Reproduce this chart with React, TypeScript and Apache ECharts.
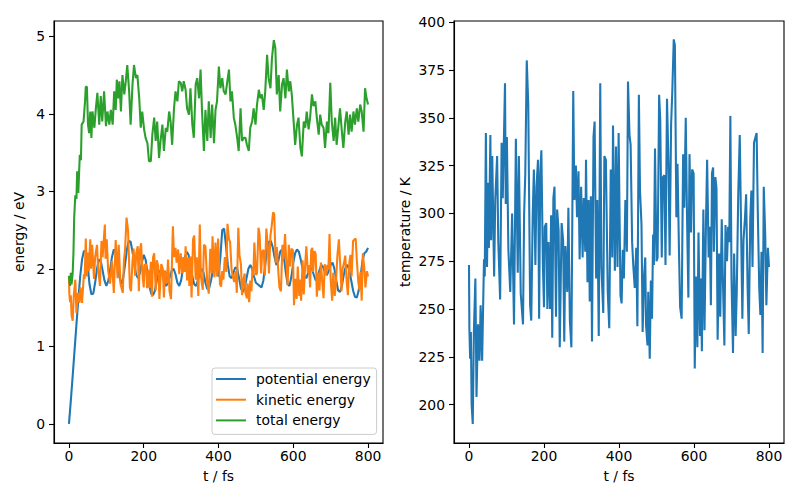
import React, { useEffect, useRef } from "react";
import * as echarts from "echarts";

// ---------- data ----------
const xTicks = [0, 200, 400, 600, 800];
const energyTicks = [0, 1, 2, 3, 4, 5];
const tempTicks = [200, 225, 250, 275, 300, 325, 350, 375, 400];

const potTime = [0,5,10,15,20,25,30,35,40,45,50,55,60,65,70,75,80,85,90,95,100,105,110,115,120,125,130,135,140,145,150,155,160,165,170,175,180,185,190,195,200,205,210,215,220,225,230,235,240,245,250,255,260,265,270,275,280,285,290,295,300,305,310,315,320,325,330,335,340,345,350,355,360,365,370,375,380,385,390,395,400,405,410,415,420,425,430,435,440,445,450,455,460,465,470,475,480,485,490,495,500,505,510,515,520,525,530,535,540,545,550,555,560,565,570,575,580,585,590,595,600,605,610,615,620,625,630,635,640,645,650,655,660,665,670,675,680,685,690,695,700,705,710,715,720,725,730,735,740,745,750,755,760,765,770,775,780,785,790,795,800];
const potentialEnergy = [0.00,0.30,0.62,0.95,1.28,1.60,1.90,2.12,2.23,2.22,2.05,1.80,1.67,1.68,1.82,2.00,2.12,2.10,1.98,1.85,1.78,1.84,1.98,2.15,2.25,2.22,2.08,1.90,1.80,1.88,2.05,2.25,2.36,2.35,2.22,2.05,1.92,1.88,1.95,2.08,2.18,2.12,1.95,1.78,1.68,1.66,1.72,1.85,1.95,1.98,1.92,1.82,1.78,1.82,1.90,1.98,2.00,1.93,1.82,1.78,1.85,2.00,2.15,2.22,2.18,2.05,1.90,1.80,1.78,1.85,1.95,2.00,1.95,1.82,1.74,1.75,1.85,1.98,2.05,1.98,1.90,2.15,2.50,2.52,2.30,2.05,1.90,1.88,1.95,2.02,2.00,1.88,1.75,1.70,1.75,1.88,2.00,2.05,2.00,1.90,1.82,1.80,1.78,1.76,1.85,2.05,2.25,2.35,2.36,2.28,2.15,2.05,2.10,2.22,2.25,2.15,1.95,1.80,1.78,1.90,2.08,2.20,2.25,2.22,2.12,2.00,1.90,1.88,1.95,2.02,2.00,1.92,1.85,1.88,1.98,2.05,2.02,1.95,1.92,1.98,2.05,2.08,2.00,1.85,1.72,1.70,1.78,1.92,2.02,2.05,1.98,1.85,1.72,1.64,1.63,1.72,1.90,2.10,2.20,2.22,2.27];

const tempTime = [0,1,3,5,7,10,13,17,20,24,28,31,35,40,42,45,48,51,53,57,59,62,67,70,75,78,83,87,90,96,98,101,105,110,115,120,125,130,133,138,144,147,150,154,158,163,166,170,173,177,180,184,187,190,193,197,200,202,
206,209,212,216,219,222,225,228,232,235,239,242,247,251,254,257,262,265,269,273,278,281,285,288,292,295,299,303,306,310,312,316,319,322,325,328,332,335,339,342,346,350,353,358,361,365,370,374,378,382,384,389,392,396,399,
404,407,410,413,417,421,424,428,431,435,438,442,446,449,453,456,460,463,467,470,472,476,478,482,485,488,491,493,496,500,503,507,510,514,517,521,524,528,532,535,539,542,546,549,553,556,560,563,567,571,574,578,581,585,588,592,595,599,602,
605,609,612,616,618,621,625,628,632,635,639,642,645,648,651,653,657,660,663,667,670,674,677,681,684,688,691,694,697,700,704,707,711,714,718,722,725,729,732,736,739,743,746,750,753,756,760,764,767,770,774,777,780,783,786,790,793,797,800];

const temperature = [273,240,224,238,200,190,238,266,204,242,223,252,223,276,267,342,272,316,282,341,286,330,267,307,330,286,255,337,308,368,305,340,281,259,300,242,339,269,330,258,242,300,320,380,357,252,244,300,323,273,314,328,245,321,333,273,251,293,
295,250,285,250,299,235,308,314,246,302,291,230,295,286,233,283,259,303,244,230,364,307,325,298,322,276,314,277,308,280,328,264,307,254,309,233,340,348,266,307,236,368,272,248,330,328,259,240,323,277,346,270,335,272,342,
257,253,281,266,307,280,369,341,336,285,273,261,282,241,362,312,294,238,268,277,242,231,259,224,265,245,289,273,334,275,277,362,349,277,319,320,273,360,326,278,347,363,391,388,298,326,280,251,245,331,303,350,303,256,331,290,323,321,219,
267,230,290,236,266,228,302,239,296,328,277,293,252,321,324,280,319,313,234,279,246,297,266,231,294,275,293,285,351,266,227,279,236,259,310,341,300,245,286,298,310,261,237,297,312,272,337,340,342,302,261,247,280,227,314,288,252,282,272];

const kineticEnergy = [1.91,1.68,1.57,1.66,1.40,1.33,1.66,1.86,1.43,1.69,1.56,1.76,1.56,1.93,1.87,2.39,1.90,2.21,1.97,2.38,2.00,2.31,1.87,2.15,2.31,2.00,1.78,2.36,2.15,2.57,2.13,2.38,1.97,1.81,2.10,1.69,2.37,1.88,2.31,1.80,1.69,2.10,2.24,2.66,2.50,1.76,1.71,2.10,2.26,1.91,2.20,2.29,1.71,2.24,2.33,1.91,1.76,2.05,
2.06,1.75,1.99,1.75,2.09,1.64,2.15,2.20,1.72,2.11,2.03,1.61,2.06,2.00,1.63,1.98,1.81,2.12,1.71,1.61,2.55,2.15,2.27,2.08,2.25,1.93,2.20,1.94,2.15,1.96,2.29,1.85,2.15,1.78,2.16,1.63,2.38,2.43,1.86,2.15,1.65,2.57,1.90,1.73,2.31,2.29,1.81,1.68,2.26,1.94,2.42,1.89,2.34,1.90,2.39,
1.80,1.77,1.97,1.86,2.15,1.96,2.58,2.38,2.35,1.99,1.91,1.83,1.97,1.69,2.53,2.18,2.06,1.66,1.87,1.94,1.69,1.62,1.81,1.57,1.85,1.71,2.02,1.91,2.34,1.92,1.94,2.53,2.44,1.94,2.23,2.24,1.91,2.52,2.28,1.94,2.43,2.54,2.73,2.71,2.08,2.28,1.96,1.76,1.71,2.31,2.12,2.45,2.12,1.79,2.31,2.03,2.26,2.24,1.53,
1.87,1.61,2.03,1.65,1.86,1.59,2.11,1.67,2.07,2.29,1.94,2.05,1.76,2.24,2.27,1.96,2.23,2.19,1.64,1.95,1.72,2.08,1.86,1.62,2.06,1.92,2.05,1.99,2.45,1.86,1.59,1.95,1.65,1.81,2.17,2.38,2.10,1.71,2.00,2.08,2.17,1.83,1.66,2.08,2.18,1.90,2.36,2.38,2.39,2.11,1.83,1.73,1.96,1.59,2.20,2.01,1.76,1.97,1.90];

const totalTime = [0,3,5,7,10,12,14,17,20,22,25,29,32,34,39,43,45,48,51,54,57,60,63,68,72,76,81,85,89,94,99,103,108,112,117,121,125,128,132,135,139,143,148,152,156,161,165,170,174,179,183,188,192,196,201,205,210,214,219,223,228,232,236,241,245,250,254,259,263,268,272,276,281,285,290,294,299,303,307,312,316,321,325,330,334,339,343,348,352,356,361,365,370,374,379,383,388,392,396,401,405,410,414,419,423,428,432,436,441,445,450,454,459,463,468,472,476,481,485,490,494,499,503,508,512,516,521,525,530,534,539,543,548,552,556,561,565,570,574,579,583,588,592,596,601,605,610,614,619,623,628,632,636,641,645,650,654,659,663,668,672,676,681,685,690,694,699,703,708,712,716,721,725,730,734,739,743,748,752,756,761,765,770,774,779,783,788,792,796,800];
const totalEnergy = [1.91,1.78,1.95,1.80,1.95,2.20,2.66,2.95,2.90,3.26,2.98,3.47,3.40,3.86,3.90,4.16,4.35,4.35,3.86,3.75,4.03,3.69,4.03,3.82,4.07,4.27,3.86,4.23,3.90,4.29,3.84,4.03,3.86,4.05,3.86,4.29,4.05,4.44,4.20,4.42,4.03,4.50,4.25,4.42,4.63,4.29,3.86,4.38,4.63,4.46,4.50,4.20,3.82,4.03,3.80,3.69,3.62,3.39,3.39,3.73,3.95,3.65,3.90,3.43,3.65,3.86,3.52,3.82,3.77,4.03,3.90,3.60,4.07,4.29,4.16,4.42,4.40,4.29,4.42,4.31,4.07,3.99,4.33,3.86,3.69,4.38,4.46,4.20,4.57,4.03,3.52,4.05,3.65,4.16,3.69,4.12,3.62,4.05,4.16,4.61,4.33,4.46,4.29,4.25,4.40,4.57,4.16,4.29,3.95,3.86,3.69,3.52,4.07,3.65,3.69,3.69,3.60,3.52,3.82,3.90,4.07,3.86,4.12,4.31,4.20,4.25,4.05,4.29,4.76,4.46,4.33,4.72,4.95,4.85,4.25,4.50,4.03,4.38,4.46,4.20,4.57,4.29,4.42,4.25,3.90,3.60,3.86,3.95,3.56,3.45,3.90,3.82,4.03,3.80,3.95,4.25,4.10,4.16,3.95,3.73,3.99,3.86,3.82,3.56,3.90,3.75,4.40,3.90,3.65,3.95,3.60,3.86,4.07,3.77,3.56,3.90,4.03,3.73,3.99,3.77,4.03,3.86,4.07,3.90,4.12,4.03,3.77,4.33,4.20,4.12];

const seriesNames = ["potential energy", "kinetic energy", "total energy"];
const colors = ["#1f77b4", "#ff7f0e", "#2ca02c"];

// ---------- chart ----------
const FONT = "DejaVu Sans";
const FS = 13.9;
const LW = 2.08;

function pairs(xs: number[], ys: number[]) {
  const n = Math.min(xs.length, ys.length);
  const out: number[][] = [];
  for (let i = 0; i < n; i++) out.push([xs[i], ys[i]]);
  return out;
}

function makeXAxis(gridIndex: number) {
  return {
    type: "value",
    gridIndex,
    min: -40,
    max: 840,
    name: "t / fs",
    nameLocation: "middle",
    nameGap: 26,
    nameTextStyle: { fontFamily: FONT, fontSize: FS, color: "#000" },
    splitLine: { show: false },
    axisLine: { show: true, onZero: false, lineStyle: { color: "#000", width: 1.1 } },
    axisTick: { show: true, length: 5, inside: false, lineStyle: { color: "#000", width: 1.1 }, customValues: xTicks },
    axisLabel: { customValues: xTicks, margin: 6, fontFamily: FONT, fontSize: FS, color: "#000" },
  };
}

export default function App() {
  const ref = useRef<HTMLDivElement>(null);
  useEffect(() => {
    if (!ref.current) return;
    const chart = echarts.init(ref.current, null, { renderer: "svg" });
    const lineSeries = (name: string, xi: number, yi: number, data: number[][], color: string) => ({
      type: "line",
      name,
      xAxisIndex: xi,
      yAxisIndex: yi,
      data,
      showSymbol: false,
      symbol: "none",
      lineStyle: { color, width: LW },
      itemStyle: { color },
      emphasis: { disabled: true },
    });
    chart.setOption({
      animation: false,
      textStyle: { fontFamily: FONT },
      grid: [
        { left: 54, top: 21, width: 329, height: 422, show: true, borderColor: "#000", borderWidth: 1.1, backgroundColor: "transparent" },
        { left: 454, top: 21, width: 330, height: 422, show: true, borderColor: "#000", borderWidth: 1.1, backgroundColor: "transparent" },
      ],
      xAxis: [makeXAxis(0), makeXAxis(1)],
      yAxis: [
        {
          type: "value",
          gridIndex: 0,
          min: -0.2475,
          max: 5.1975,
          name: "energy / eV",
          nameLocation: "middle",
          nameGap: 28,
          nameRotate: 90,
          nameTextStyle: { fontFamily: FONT, fontSize: FS, color: "#000" },
          splitLine: { show: false },
          axisLine: { show: true, onZero: false, lineStyle: { color: "#000", width: 1.1 } },
          axisTick: { show: true, length: 5, lineStyle: { color: "#000", width: 1.1 }, customValues: energyTicks },
          axisLabel: { customValues: energyTicks, margin: 9, fontFamily: FONT, fontSize: FS, color: "#000" },
        },
        {
          type: "value",
          gridIndex: 1,
          min: 180,
          max: 400.6,
          name: "temperature / K",
          nameLocation: "middle",
          nameGap: 42,
          nameRotate: 90,
          nameTextStyle: { fontFamily: FONT, fontSize: FS, color: "#000" },
          splitLine: { show: false },
          axisLine: { show: true, onZero: false, lineStyle: { color: "#000", width: 1.1 } },
          axisTick: { show: true, length: 5, lineStyle: { color: "#000", width: 1.1 }, customValues: tempTicks },
          axisLabel: { customValues: tempTicks, margin: 9, fontFamily: FONT, fontSize: FS, color: "#000" },
        },
      ],
      legend: {
        data: seriesNames,
        orient: "vertical",
        left: 212,
        top: 368,
        icon: "rect",
        itemWidth: 30,
        itemHeight: 2,
        itemGap: 6.7,
        padding: [4, 6, 7, 4],
        borderColor: "#cccccc",
        borderWidth: 1,
        borderRadius: 3,
        backgroundColor: "rgba(255,255,255,0.8)",
        textStyle: { fontFamily: FONT, fontSize: FS, color: "#000", padding: [0, 0, 0, 5], lineHeight: 14 },
        selectedMode: false,
      },
      series: [
        lineSeries(seriesNames[0], 0, 0, pairs(potTime, potentialEnergy), colors[0]),
        lineSeries(seriesNames[1], 0, 0, pairs(tempTime, kineticEnergy), colors[1]),
        lineSeries(seriesNames[2], 0, 0, pairs(totalTime, totalEnergy), colors[2]),
        lineSeries("temperature", 1, 1, pairs(tempTime, temperature), colors[0]),
      ],
    });
    return () => chart.dispose();
  }, []);
  return (
    <div
      ref={ref}
      style={{ position: "fixed", left: 0, top: 0, width: 800, height: 500, background: "#fff" }}
    />
  );
}
